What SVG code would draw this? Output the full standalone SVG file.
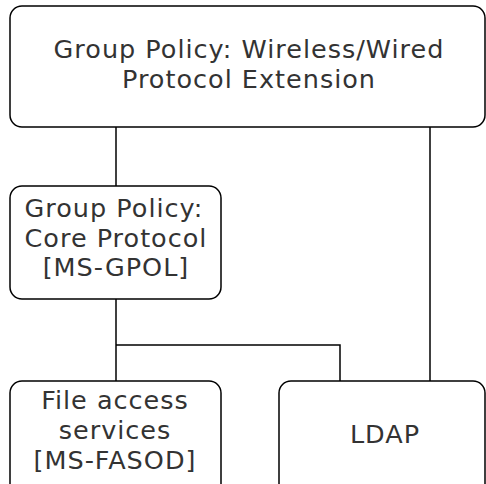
<svg xmlns="http://www.w3.org/2000/svg" width="486" height="484" viewBox="0 0 486 484">
<style>
.box{fill:#fff;stroke:#000;stroke-width:1.5}
.t{font-family:"DejaVu Sans",Verdana,sans-serif;font-size:25.5px;letter-spacing:1px;fill:#333;text-anchor:middle}
.c{fill:none;stroke:#000;stroke-width:1.5}
</style>
<rect width="486" height="484" fill="#fff"/>
<g id="connectors">
<path class="c" d="M116 127V186"/>
<path class="c" d="M430 127V381"/>
<path class="c" d="M116 299V381"/>
<path class="c" d="M116 345H340V381"/>
</g>
<g id="n1">
<rect class="box" x="10" y="6" width="475" height="121" rx="12"/>
<text class="t" x="249" y="58">Group Policy: Wireless/Wired</text>
<text class="t" x="249" y="88">Protocol Extension</text>
</g>
<g id="n2">
<rect class="box" x="10" y="186" width="211" height="113" rx="12"/>
<text class="t" x="114" y="217">Group Policy:</text>
<text class="t" x="116" y="247">Core Protocol</text>
<text class="t" x="116" y="276">[MS-GPOL]</text>
</g>
<g id="n3">
<rect class="box" x="10" y="381" width="211" height="120" rx="12"/>
<text class="t" x="115" y="409">File access</text>
<text class="t" x="115" y="439">services</text>
<text class="t" x="115" y="469">[MS-FASOD]</text>
</g>
<g id="n4">
<rect class="box" x="279" y="381" width="206" height="120" rx="12"/>
<text class="t" x="385" y="443">LDAP</text>
</g>
</svg>
